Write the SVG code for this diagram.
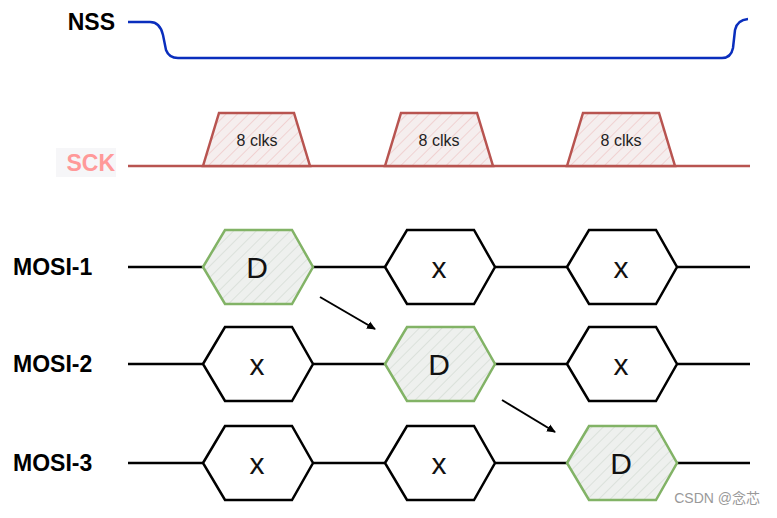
<svg xmlns="http://www.w3.org/2000/svg" width="777" height="518" viewBox="0 0 777 518">
<style>
.lbl{font-family:"Liberation Sans",Arial,sans-serif;font-weight:bold;font-size:23px;fill:#000}
.clk{font-family:"Liberation Sans",Arial,sans-serif;font-size:16px;fill:#222;text-anchor:middle}
.big{font-family:"Liberation Sans",Arial,sans-serif;font-size:30px;fill:#111;text-anchor:middle}
.trap{fill:url(#hr);stroke:#b85450;stroke-width:2.5}
.hex{fill:#fff;stroke:#000;stroke-width:2.5}
.hexg{fill:url(#hg);stroke:#82b366;stroke-width:2.5}
.wire{stroke:#000;stroke-width:2.5;fill:none}
</style>
<defs>
<pattern id="hr" width="8" height="8" patternUnits="userSpaceOnUse" patternTransform="rotate(45)"><rect width="8" height="8" fill="#f5eeee"/><line x1="0" y1="0" x2="0" y2="8" stroke="#eec0c0" stroke-width="1.2"/></pattern>
<pattern id="hg" width="8" height="8" patternUnits="userSpaceOnUse" patternTransform="rotate(45)"><rect width="8" height="8" fill="#eef0ee"/><line x1="0" y1="0" x2="0" y2="8" stroke="#cfd8cf" stroke-width="1.2"/></pattern>
<marker id="ah" markerWidth="10" markerHeight="10" refX="8" refY="5" orient="auto" markerUnits="userSpaceOnUse"><path d="M0,1 L9,5 L0,9 Z" fill="#000"/></marker>
</defs>
<g id="labels">
<text class="lbl" x="115" y="30" text-anchor="end">NSS</text>
<rect x="56" y="148" width="60" height="29" fill="#f6f6f8"/>
<text class="lbl" x="115" y="171" text-anchor="end" style="fill:#ff9999">SCK</text>
<text class="lbl" x="13" y="275">MOSI-1</text>
<text class="lbl" x="13" y="372">MOSI-2</text>
<text class="lbl" x="13" y="471">MOSI-3</text>
</g>
<g id="nss">
<path d="M128,22 L150,22 Q160,22 163,35 L166,50 Q169,58 178,58 L722,58 Q731,58 733,48 L735,30 Q737,20 748,19" fill="none" stroke="#0a2ebd" stroke-width="2.5"/>
</g>
<g id="sck">
<line x1="128" y1="166" x2="750" y2="166" stroke="#b85450" stroke-width="2.5"/>
<polygon class="trap" points="203,166 219,113 294,113 310,166"/>
<text class="clk" x="257" y="146">8 clks</text>
<polygon class="trap" points="385,166 401,113 477,113 493,166"/>
<text class="clk" x="439" y="146">8 clks</text>
<polygon class="trap" points="567,166 583,113 659,113 675,166"/>
<text class="clk" x="621" y="146">8 clks</text>
</g>
<g id="mosi1">
<line class="wire" x1="128" y1="267" x2="750" y2="267"/>
<polygon class="hexg" points="203,267 225,230 292,230 313,267 292,304 225,304"/>
<text class="big" x="257" y="278">D</text>
<polygon class="hex" points="385,267 407,230 474,230 495,267 474,304 407,304"/>
<text class="big" x="439" y="278">x</text>
<polygon class="hex" points="567,267 589,230 656,230 677,267 656,304 589,304"/>
<text class="big" x="621" y="278">x</text>
</g>
<g id="mosi2">
<line class="wire" x1="128" y1="364" x2="750" y2="364"/>
<polygon class="hex" points="203,364 225,327 292,327 313,364 292,401 225,401"/>
<text class="big" x="257" y="375">x</text>
<polygon class="hexg" points="385,364 407,327 474,327 495,364 474,401 407,401"/>
<text class="big" x="439" y="375">D</text>
<polygon class="hex" points="567,364 589,327 656,327 677,364 656,401 589,401"/>
<text class="big" x="621" y="375">x</text>
</g>
<g id="mosi3">
<line class="wire" x1="128" y1="463" x2="750" y2="463"/>
<polygon class="hex" points="203,463 225,426 292,426 313,463 292,500 225,500"/>
<text class="big" x="257" y="474">x</text>
<polygon class="hex" points="385,463 407,426 474,426 495,463 474,500 407,500"/>
<text class="big" x="439" y="474">x</text>
<polygon class="hexg" points="567,463 589,426 656,426 677,463 656,500 589,500"/>
<text class="big" x="621" y="474">D</text>
</g>
<g id="connectors">
<line x1="320" y1="297" x2="375" y2="329" stroke="#000" stroke-width="2" marker-end="url(#ah)"/>
<line x1="502" y1="400" x2="555" y2="432" stroke="#000" stroke-width="2" marker-end="url(#ah)"/>
</g>
<text x="760" y="503" text-anchor="end" font-family="'Liberation Sans','Noto Sans CJK SC',sans-serif" font-size="14" fill="#999">CSDN @念芯</text>
</svg>
